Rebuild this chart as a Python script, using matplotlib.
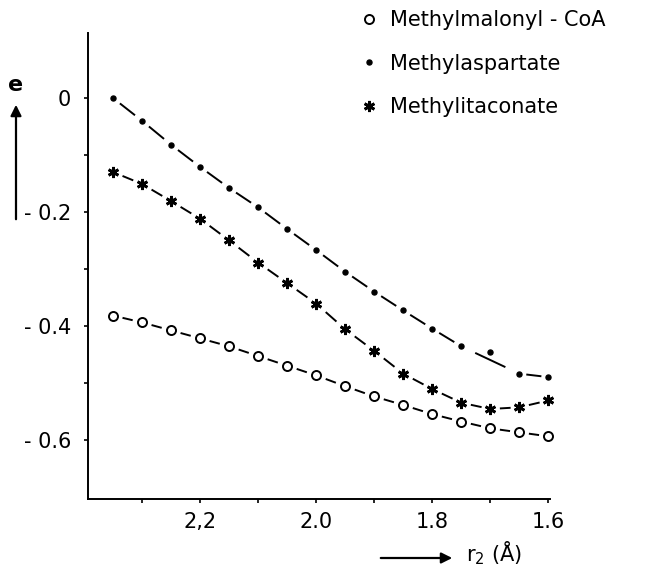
import numpy as np
import matplotlib.pyplot as plt

# r2 distance (Angstrom) and energy e for the three substrates
r2 = [2.35, 2.30, 2.25, 2.20, 2.15, 2.10, 2.05, 2.00,
      1.95, 1.90, 1.85, 1.80, 1.75, 1.70, 1.65, 1.60]
methylmalonyl = [-0.382, -0.394, -0.408, -0.422, -0.436, -0.453, -0.470, -0.487,
                 -0.506, -0.524, -0.539, -0.555, -0.568, -0.580, -0.587, -0.594]
methylaspartate = [0.000, -0.040, -0.082, -0.121, -0.158, -0.192, -0.230, -0.267,
                   -0.305, -0.340, -0.373, -0.405, -0.436, -0.446, -0.484, -0.490]
methylitaconate = [-0.130, -0.151, -0.181, -0.212, -0.250, -0.289, -0.325, -0.361,
                   -0.406, -0.444, -0.484, -0.511, -0.535, -0.546, -0.543, -0.531]
# the curve through methylaspartate skips the r2 = 1.70 point
aspartate_skip = 1.70

xticks = [2.2, 2.0, 1.8, 1.6]
xticklabels = ['2,2', '2.0', '1.8', '1.6']
yticks = [0, -0.2, -0.4, -0.6]
yticklabels = ['0', '- 0.2', '- 0.4', '- 0.6']

plt.rcParams['font.family'] = 'DejaVu Sans'

fig = plt.figure(figsize=(6.58, 5.69), dpi=100)
ax = fig.add_axes([0.1337, 0.123, 0.7023, 0.819])


def dashes(x, y, t0, t1):
    # one dash in the middle of every interval between two points
    x = np.asarray(x)
    y = np.asarray(y)
    for i in range(len(x) - 1):
        xs = [x[i] + t0 * (x[i + 1] - x[i]), x[i] + t1 * (x[i + 1] - x[i])]
        ys = [y[i] + t0 * (y[i + 1] - y[i]), y[i] + t1 * (y[i + 1] - y[i])]
        ax.plot(xs, ys, color='black', lw=1.4, solid_capstyle='butt')


dashes(r2, methylmalonyl, 0.33, 0.68)
keep = [i for i, v in enumerate(r2) if abs(v - aspartate_skip) > 1e-9]
dashes([r2[i] for i in keep], [methylaspartate[i] for i in keep], 0.24, 0.76)
dashes(r2, methylitaconate, 0.33, 0.70)

ax.plot(r2, methylmalonyl, 'o', ms=6.5, mfc='white', mec='black', mew=1.4,
        label='Methylmalonyl - CoA', clip_on=False)
ax.plot(r2, methylaspartate, 'o', ms=3.6, color='black', label='Methylaspartate',
        clip_on=False)
ax.plot(r2, methylitaconate, marker=(6, 2, 0), ls='none', ms=8, color='black',
        mew=2.0, label='Methylitaconate', clip_on=False)

ax.set_xlim(2.393, 1.597)
ax.set_ylim(-0.704, 0.114)
ax.spines['top'].set_visible(False)
ax.spines['right'].set_visible(False)
ax.spines['left'].set_linewidth(1.4)
ax.spines['bottom'].set_linewidth(1.4)

ax.set_xticks(xticks)
ax.set_xticklabels(xticklabels)
ax.set_xticks([2.3, 2.1, 1.9, 1.7], minor=True)
ax.set_yticks(yticks)
ax.set_yticklabels(yticklabels)
ax.set_yticks([-0.1, -0.3, -0.5], minor=True)
ax.tick_params(which='both', direction='out', length=3, width=1.2, labelsize=15)
ax.tick_params(axis='x', pad=6)
ax.tick_params(axis='y', pad=9)

leg = ax.legend(loc='upper left', bbox_to_anchor=(0.552, 0.982),
                bbox_transform=fig.transFigure, frameon=False, fontsize=15,
                handlelength=0.6, handletextpad=0.7, labelspacing=1.12,
                borderpad=0, borderaxespad=0)

# axis labels with arrows
fig.text(16 / 658, 1 - 85 / 569, 'e', fontsize=16, fontweight='bold',
         ha='center', va='center')
ax.annotate('', xy=(16 / 658, 1 - 102 / 569), xytext=(16 / 658, 1 - 222 / 569),
            xycoords='figure fraction',
            arrowprops=dict(arrowstyle='-|>', lw=1.6, color='black', mutation_scale=16))
ax.annotate('', xy=(455 / 658, 1 - 558 / 569), xytext=(378 / 658, 1 - 558 / 569),
            xycoords='figure fraction',
            arrowprops=dict(arrowstyle='-|>', lw=1.6, color='black', mutation_scale=16))
fig.text(466 / 658, 1 - 553 / 569, r'r$_2$ (Å)', fontsize=15, ha='left', va='center')

fig.savefig('out.png', dpi=100)
